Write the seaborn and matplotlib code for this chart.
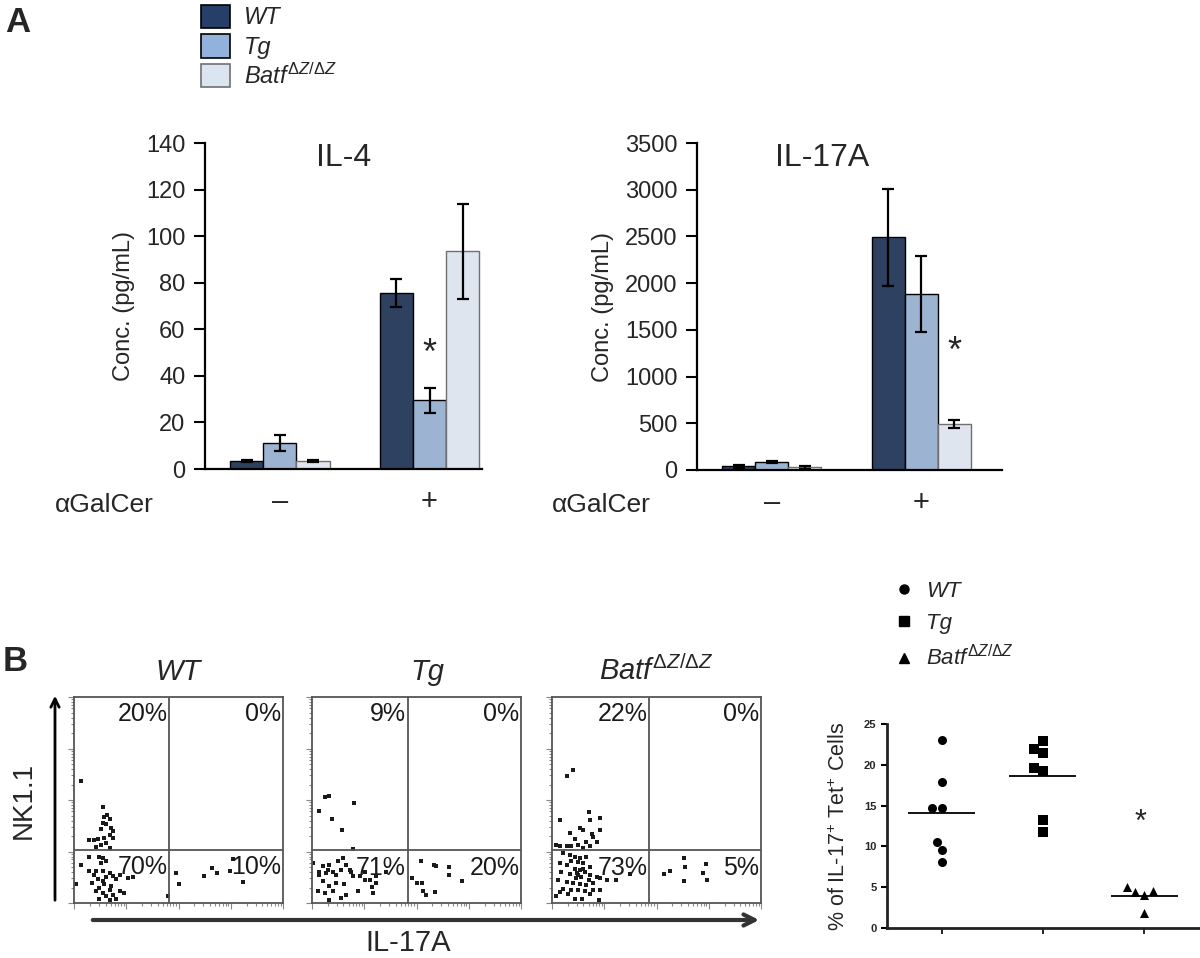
import numpy as np
import pandas as pd
import seaborn as sns
import matplotlib.pyplot as plt
from matplotlib.patches import Patch, FancyArrowPatch
from matplotlib.lines import Line2D

# ---- data ----
genotypes = ['WT', 'Tg', 'Batf']
geno_labels = ['WT', 'Tg', r'$\mathit{Batf}^{\mathit{\Delta Z/\Delta Z}}$']
treatments = ['\u2013', '+']
bar_colors = ['#263f69', '#93b2db', '#dbe5f2']

# IL-4 (pg/mL), order: [aGalCer -, aGalCer +]
il4_wt = [3.4, 75.6]
il4_tg = [11.2, 29.5]
il4_batf = [3.4, 93.5]
il4_wt_err = [0.4, 6.0]
il4_tg_err = [3.3, 5.3]
il4_batf_err = [0.5, 20.5]

# IL-17A (pg/mL)
il17_wt = [40, 2490]
il17_tg = [85, 1885]
il17_batf = [28, 495]
il17_wt_err = [15, 520]
il17_tg_err = [12, 410]
il17_batf_err = [18, 45]

# flow plots, log10 fluorescence (decades 0-4): IL-17A on x, NK1.1 on y
wt_x = [0.13, 0.55, 0.58, 0.64, 0.68, 0.55, 0.61, 0.71, 0.74, 0.51, 0.68, 0.58, 0.74, 0.45, 0.29,
        0.39, 0.61, 0.51, 0.42, 0.68, 0.29, 0.48, 0.55, 0.61, 0.13, 0.51, 0.42, 0.55, 0.68, 0.87,
        0.74, 0.61, 0.45, 0.55, 0.80, 1.03, 1.13, 0.35, 0.58, 0.71, 0.48, 0.68, 0.87, 0.96, 0.42,
        0.55, 0.74, 0.61, 0.48, 0.68, 0.80, 0.03, 0.29, 0.39, 1.80,
        1.95, 2.01, 2.48, 2.73, 2.99, 3.05, 3.23, 2.64]
wt_y = [2.37, 1.87, 1.67, 1.71, 1.63, 1.56, 1.53, 1.46, 1.40, 1.43, 1.33, 1.27, 1.27, 1.24, 1.22,
        1.22, 1.17, 1.13, 1.09, 1.07, 0.89, 0.90, 0.88, 0.81, 0.73, 0.78, 0.63, 0.62, 0.59, 0.55,
        0.52, 0.50, 0.46, 0.42, 0.46, 0.49, 0.50, 0.39, 0.36, 0.33, 0.29, 0.26, 0.24, 0.20, 0.23,
        0.20, 0.16, 0.13, 0.07, 0.05, 0.07, 0.36, 0.62, 0.54, 0.13,
        0.59, 0.37, 0.52, 0.59, 0.62, 0.85, 0.41, 0.68]
tg_x = [0.13, 0.24, 0.33, 0.80, 0.39, 0.58, 0.78,
        0.01, 0.21, 0.33, 0.50, 0.59, 0.66, 0.56, 0.72, 0.40, 0.27, 0.14, 0.46, 0.78, 0.91, 1.01,
        1.11, 1.23, 1.41, 0.21, 0.33, 0.46, 0.62, 1.14, 1.23, 1.17, 0.88, 0.11, 0.24, 0.40, 0.56,
        0.33, 0.66, 0.75, 1.01, 0.14, 0.30,
        1.91, 2.01, 2.08, 2.10, 2.12, 2.19, 2.35, 2.33, 2.38, 2.62, 2.63, 2.87]
tg_y = [1.78, 2.05, 2.07, 1.94, 1.63, 1.42, 1.05,
        0.78, 0.71, 0.74, 0.81, 0.87, 0.74, 0.65, 0.65, 0.61, 0.58, 0.55, 0.55, 0.52, 0.53, 0.45,
        0.44, 0.52, 0.60, 0.42, 0.34, 0.39, 0.36, 0.32, 0.39, 0.19, 0.23, 0.23, 0.19, 0.23, 0.10,
        0.05, 0.16, 0.60, 0.60, 0.61, 0.65,
        0.49, 0.39, 0.81, 0.39, 0.23, 0.16, 0.21, 0.74, 0.71, 0.70, 0.54, 0.42]
batf_x = [0.28, 0.41, 0.15, 0.70, 0.91, 0.72, 0.54, 0.59, 0.76, 0.79, 0.34, 0.92, 0.44, 0.66, 0.86,
          0.50, 0.73, 0.15, 0.28, 0.37, 0.08, 0.60,
          0.21, 0.34, 0.44, 0.54, 0.66, 0.37, 0.50, 0.60, 0.15, 0.28, 0.73, 0.44, 0.54, 0.63, 0.18,
          0.34, 0.50, 0.73, 0.86, 0.92, 1.05, 1.23, 1.49, 0.12, 0.28, 0.41, 0.54, 0.66, 0.79, 0.21,
          0.37, 0.50, 0.63, 0.79, 0.92, 0.15, 0.31, 0.44, 0.57, 0.73, 0.89, 0.08, 0.60, 0.47, 0.56,
          0.70, 0.46,
          2.15, 2.26, 2.52, 2.55, 2.52, 2.88, 2.95, 2.97]
batf_y = [2.47, 2.58, 1.62, 1.76, 1.65, 1.61, 1.46, 1.42, 1.34, 1.29, 1.36, 1.42, 1.24, 1.19, 1.19,
          1.13, 1.11, 1.11, 1.10, 1.10, 1.13, 1.06,
          0.97, 0.93, 0.90, 0.87, 0.90, 0.82, 0.80, 0.77, 0.77, 0.74, 0.70, 0.67, 0.64, 0.61, 0.61,
          0.57, 0.54, 0.54, 0.51, 0.48, 0.44, 0.44, 0.57, 0.44, 0.41, 0.38, 0.37, 0.35, 0.38, 0.28,
          0.26, 0.25, 0.24, 0.25, 0.26, 0.22, 0.18, 0.07, 0.08, 0.17, 0.05, 0.13, 0.67, 0.59, 0.51,
          0.44, 0.48,
          0.57, 0.62, 0.88, 0.70, 0.43, 0.59, 0.76, 0.44]
wt_gate = (1.82, 1.03)
tg_gate = (1.83, 1.02)
batf_gate = (1.86, 1.02)
wt_pct = ['20%', '0%', '70%', '10%']
tg_pct = ['9%', '0%', '71%', '20%']
batf_pct = ['22%', '0%', '73%', '5%']

# % of IL-17+ Tet+ cells
pct_wt = [23.0, 17.9, 14.7, 14.7, 10.5, 9.5, 8.1]
pct_tg = [22.9, 21.9, 21.4, 19.6, 19.2, 13.2, 11.8]
pct_batf = [5.0, 4.5, 4.4, 4.0, 1.8]

# ---- style ----
sns.set_theme(style='ticks')
plt.rcParams['font.family'] = ['Liberation Sans', 'DejaVu Sans']
plt.rcParams['mathtext.fontset'] = 'custom'
plt.rcParams['mathtext.rm'] = 'Liberation Sans'
plt.rcParams['mathtext.it'] = 'Liberation Sans:italic'
plt.rcParams['mathtext.bf'] = 'Liberation Sans:bold'

fig = plt.figure(figsize=(12, 9.58), dpi=100)


def bar_panel(ax, wt, tg, batf, errs, top, step, title, title_x, star_idx, star_y, xmax):
    df = pd.DataFrame({
        'treat': treatments * 3,
        'geno': [g for g in genotypes for _ in treatments],
        'val': wt + tg + batf,
    })
    sns.barplot(data=df, x='treat', y='val', hue='geno', order=treatments,
                hue_order=genotypes, palette=bar_colors, width=0.665,
                edgecolor='black', linewidth=1.0, errorbar=None, legend=False, ax=ax)
    for cont, err in zip(ax.containers, errs):
        for bar, e in zip(cont, err):
            ax.errorbar(bar.get_x() + bar.get_width() / 2, bar.get_height(), yerr=e,
                        color='black', capsize=4, elinewidth=1.6, capthick=1.6, zorder=5)
    for bar in ax.containers[2]:
        bar.set_edgecolor('#707070')
    # significance star above the chosen bar
    bar = ax.containers[star_idx][1]
    ax.text(bar.get_x() + bar.get_width() / 2, star_y, '*', ha='center', va='center',
            fontsize=26)
    ax.set_ylim(0, top)
    ax.set_yticks(np.arange(0, top + 1, step))
    ax.set_xlim(-0.5, xmax)
    ax.set_xlabel('')
    ax.set_ylabel('Conc. (pg/mL)', fontsize=17, labelpad=8)
    ax.tick_params(axis='y', labelsize=17, length=8, width=1.5, pad=6, color='black')
    ax.tick_params(axis='x', labelsize=21, length=0, pad=14)
    for s in ['left', 'bottom']:
        ax.spines[s].set_linewidth(1.6)
        ax.spines[s].set_color('black')
    sns.despine(ax=ax)
    ax.text(title_x, 1.0, title, transform=ax.transAxes, ha='center', va='top', fontsize=23)


ax1 = fig.add_axes([0.1708, 0.5104, 0.2308, 0.3403])
bar_panel(ax1, il4_wt, il4_tg, il4_batf, [il4_wt_err, il4_tg_err, il4_batf_err],
          140, 20, 'IL-4', 0.5, 1, 49, 1.35)
ax2 = fig.add_axes([0.5808, 0.5094, 0.2542, 0.3413])
bar_panel(ax2, il17_wt, il17_tg, il17_batf, [il17_wt_err, il17_tg_err, il17_batf_err],
          3500, 500, 'IL-17A', 0.41, 2, 1255, 1.54)
fig.text(55 / 1200, 1 - 505 / 958, '\u03b1GalCer', fontsize=19, va='center')
fig.text(552 / 1200, 1 - 505 / 958, '\u03b1GalCer', fontsize=19, va='center')

handles = [Patch(facecolor=c, edgecolor=e, linewidth=1.2)
           for c, e in zip(bar_colors, ['black', 'black', '#707070'])]
fig.legend(handles, geno_labels, loc='upper left', bbox_to_anchor=(192 / 1200, 1.005),
           frameon=False, prop={'style': 'italic', 'size': 17}, handlelength=1.2,
           handleheight=1.15, labelspacing=0.2, handletextpad=0.6, borderaxespad=0)

fig.text(5 / 1200, 1 - 6 / 958, 'A', fontsize=25, fontweight='bold', va='top')
fig.text(3 / 1200, 1 - 645 / 958, 'B', fontsize=25, fontweight='bold', va='top')


def flow_panel(ax, xs, ys, gate, pcts, title, title_x=0.5):
    sns.scatterplot(x=xs, y=ys, ax=ax, color='#1a1a1a', marker='s', s=5, linewidth=0)
    ax.axvline(gate[0], color='#555555', lw=1.3)
    ax.axhline(gate[1], color='#555555', lw=1.3)
    ax.set_xlim(0, 4)
    ax.set_ylim(0, 4)
    minor = [d + np.log10(k) for d in range(4) for k in range(2, 10)]
    for axis in [ax.xaxis, ax.yaxis]:
        axis.set_ticks(range(5))
        axis.set_ticks(minor, minor=True)
    ax.tick_params(which='both', direction='out', color='#888888', width=0.8,
                   labelbottom=False, labelleft=False)
    ax.tick_params(which='major', length=4)
    ax.tick_params(which='minor', length=2)
    for s in ax.spines.values():
        s.set_color('#555555')
        s.set_linewidth(1.3)
    gx, gy = gate
    kw = dict(fontsize=18, ha='right', va='top', color='#1a1a1a')
    ax.text(gx - 0.03, 3.9, pcts[0], **kw)
    ax.text(3.97, 3.9, pcts[1], **kw)
    ax.text(gx - 0.03, gy - 0.1, pcts[2], **kw)
    ax.text(3.97, gy - 0.1, pcts[3], **kw)
    ax.set_title(title, fontsize=21, style='italic', pad=12, x=title_x)


fa = fig.add_axes([0.0617, 0.0574, 0.1742, 0.2150])
flow_panel(fa, wt_x, wt_y, wt_gate, wt_pct, geno_labels[0])
fb = fig.add_axes([0.2600, 0.0574, 0.1742, 0.2150])
flow_panel(fb, tg_x, tg_y, tg_gate, tg_pct, geno_labels[1], title_x=0.55)
fc = fig.add_axes([0.4600, 0.0574, 0.1742, 0.2150])
flow_panel(fc, batf_x, batf_y, batf_gate, batf_pct, geno_labels[2])

fig.add_artist(FancyArrowPatch((55 / 1200, 1 - 903 / 958), (55 / 1200, 1 - 693 / 958),
                               transform=fig.transFigure, arrowstyle='->,head_length=6,head_width=3',
                               color='black', lw=2))
fig.add_artist(FancyArrowPatch((90 / 1200, 1 - 920 / 958), (762 / 1200, 1 - 920 / 958),
                               transform=fig.transFigure, arrowstyle='->,head_length=8,head_width=4',
                               color='#333333', lw=3))
fig.text(24 / 1200, 1 - 800 / 958, 'NK1.1', fontsize=20, rotation=90, ha='center', va='center')
fig.text(408 / 1200, 1 - 943 / 958, 'IL-17A', fontsize=21, ha='center', va='center')

# dot plot
ax3 = fig.add_axes([0.739, 0.0313, 0.261, 0.213])
dots = pd.DataFrame({
    'geno': ['WT'] * len(pct_wt) + ['Tg'] * len(pct_tg) + ['Batf'] * len(pct_batf),
    'pct': pct_wt + pct_tg + pct_batf,
})
markers = ['o', 's', '^']
for g, m in zip(genotypes, markers):
    sns.swarmplot(data=dots[dots.geno == g], x='geno', y='pct', order=genotypes,
                  marker=m, color='black', size=6.5, ax=ax3)
means = dots.groupby('geno')['pct'].mean()
for i, g in enumerate(genotypes):
    ax3.hlines(means[g], i - 0.33, i + 0.33, color='black', lw=1.3)
ax3.text(1.96, 12.9, '*', ha='center', va='center', fontsize=22)
ax3.set_ylim(0, 25)
ax3.set_yticks(range(0, 26, 5))
ax3.set_xlim(-0.54, 2.55)
ax3.set_xticklabels([])
ax3.set_xlabel('')
ax3.set_ylabel('% of IL-17$^{+}$ Tet$^{+}$ Cells', fontsize=15.5, labelpad=10)
ax3.tick_params(axis='y', labelsize=8, length=4, width=1.5, color='black')
ax3.tick_params(axis='x', length=4, width=1.2, color='black')
for lab in ax3.get_yticklabels():
    lab.set_fontweight('bold')
for s in ['left', 'bottom']:
    ax3.spines[s].set_linewidth(2)
    ax3.spines[s].set_color('#222222')
sns.despine(ax=ax3)

dot_handles = [Line2D([], [], marker=m, color='black', linestyle='', markersize=6.5) for m in markers]
fig.legend(dot_handles, geno_labels, loc='upper left', bbox_to_anchor=(884 / 1200, 1 - 572 / 958),
           frameon=False, prop={'style': 'italic', 'size': 16}, handlelength=1.0,
           labelspacing=0.5, handletextpad=0.5, borderaxespad=0)

fig.savefig('out.png', dpi=100)
